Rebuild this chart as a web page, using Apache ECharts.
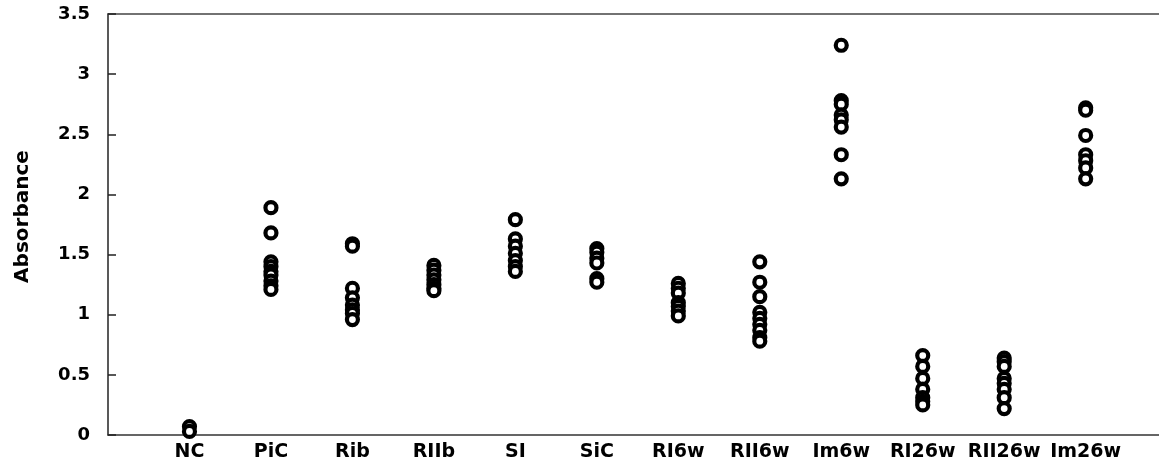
<!DOCTYPE html>
<html>
<head>
<meta charset="utf-8">
<script src="https://cdn.jsdelivr.net/npm/echarts@6/dist/echarts.min.js"></script>
<style>
html,body{margin:0;padding:0;background:#fff;}
#chart{width:1159px;height:472px;}
</style>
</head>
<body>
<div id="chart"></div>
<script>
const categories = ['NC','PiC','Rib','RIIb','SI','SiC','RI6w','RII6w','Im6w','RI26w','RII26w','Im26w'];
const NC = [0.07, 0.03];
const PiC = [1.89, 1.68, 1.44, 1.40, 1.36, 1.33, 1.28, 1.24, 1.21];
const Rib = [1.59, 1.57, 1.22, 1.14, 1.08, 1.04, 1.01, 0.96];
const RIIb = [1.41, 1.37, 1.33, 1.29, 1.25, 1.22, 1.20];
const SI = [1.79, 1.63, 1.57, 1.51, 1.45, 1.40, 1.36];
const SiC = [1.55, 1.52, 1.47, 1.43, 1.30, 1.27];
const RI6w = [1.26, 1.22, 1.18, 1.10, 1.07, 1.03, 0.99];
const RII6w = [1.44, 1.27, 1.15, 1.02, 0.97, 0.92, 0.87, 0.81, 0.78];
const Im6w = [3.24, 2.78, 2.75, 2.66, 2.62, 2.56, 2.33, 2.13];
const RI26w = [0.66, 0.57, 0.47, 0.38, 0.31, 0.28, 0.25];
const RII26w = [0.64, 0.61, 0.57, 0.47, 0.43, 0.38, 0.31, 0.22];
const Im26w = [2.72, 2.70, 2.49, 2.33, 2.28, 2.22, 2.13];
const groups = [NC, PiC, Rib, RIIb, SI, SiC, RI6w, RII6w, Im6w, RI26w, RII26w, Im26w];
const yTicks = [0, 0.5, 1, 1.5, 2, 2.5, 3, 3.5];

const points = [];
groups.forEach((vals, i) => vals.forEach(v => points.push([i + 1, v])));

const font = 'DejaVu Sans';
const chart = echarts.init(document.getElementById('chart'));
chart.setOption({
  animation: false,
  grid: {left: 108, right: 0, top: 14, bottom: 37},
  xAxis: [{
    type: 'value', min: 0, max: 12.9, interval: 1,
    axisLine: {show: true, onZero: false, lineStyle: {color: '#333', width: 1.5}},
    axisTick: {show: false},
    splitLine: {show: false},
    axisLabel: {
      margin: 8, color: '#000', fontFamily: font, fontWeight: 'bold', fontSize: 19,
      showMaxLabel: false,
      formatter: v => (Number.isInteger(v) && v >= 1 && v <= categories.length) ? categories[v - 1] : ''
    }
  }, {
    type: 'value', position: 'top', min: 0, max: 12.9,
    axisLine: {show: true, onZero: false, lineStyle: {color: '#444', width: 1.5}},
    axisTick: {show: false}, axisLabel: {show: false}, splitLine: {show: false}
  }],
  yAxis: {
    type: 'value', min: yTicks[0], max: yTicks[yTicks.length - 1], interval: 0.5,
    name: 'Absorbance', nameLocation: 'middle', nameGap: 75, nameRotate: 90,
    nameTextStyle: {color: '#000', fontFamily: font, fontWeight: 'bold', fontSize: 20, padding: [0, 0, 0, 16]},
    axisLine: {show: true, onZero: false, lineStyle: {color: '#222', width: 1.5}},
    axisTick: {show: true, inside: true, length: 8, lineStyle: {color: '#222', width: 1.5}},
    splitLine: {show: false},
    axisLabel: {margin: 18, color: '#000', fontFamily: font, fontWeight: 'bold', fontSize: 18}
  },
  series: [{
    type: 'scatter', xAxisIndex: 0,
    symbol: 'circle', symbolSize: 11,
    itemStyle: {color: '#fff', borderColor: '#000', borderWidth: 4.2, opacity: 1},
    data: points
  }]
});
</script>
</body>
</html>
